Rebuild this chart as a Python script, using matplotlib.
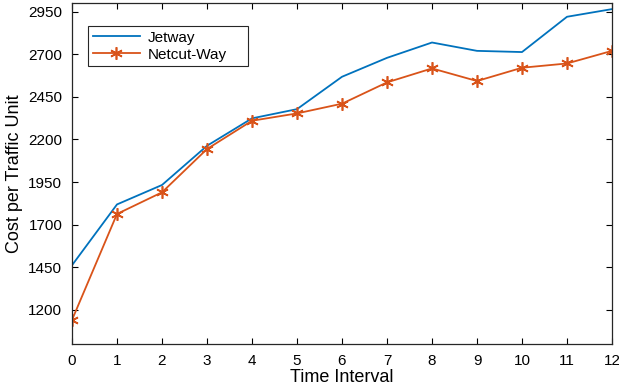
import matplotlib
matplotlib.use('Agg')
import matplotlib.pyplot as plt

plt.rcParams['font.family'] = ['Liberation Sans', 'DejaVu Sans']

# data
time_interval = [0, 1, 2, 3, 4, 5, 6, 7, 8, 9, 10, 11, 12]
jetway = [1462, 1819, 1933, 2163, 2324, 2378, 2568, 2679, 2769, 2720, 2713, 2920, 2965]
netcut_way = [1141, 1763, 1890, 2144, 2310, 2353, 2410, 2535, 2617, 2543, 2621, 2646, 2720]
y_ticks = [1200, 1450, 1700, 1950, 2200, 2450, 2700, 2950]

fig = plt.figure(figsize=(6.19, 3.92), dpi=100)
ax = fig.add_axes([0.1163, 0.1224, 0.8724, 0.8696])

ax.plot(time_interval, jetway, color='#0072BD', lw=1.3, label='Jetway')
ax.plot(time_interval, netcut_way, color='#D95319', lw=1.3, marker=(6, 2, 0),
        markersize=9, markeredgewidth=1.2, label='Netcut-Way')

ax.set_xlim(0, 12)
ax.set_ylim(1000, 3000)
ax.set_xticks(time_interval)
ax.set_yticks(y_ticks)
ax.tick_params(direction='in', top=True, right=True, labelsize=11, length=4,
               width=0.8, pad=7)
for s in ax.spines.values():
    s.set_linewidth(0.9)
    s.set_color('#262626')

ax.set_xlabel('Time Interval', fontsize=13, labelpad=1)
ax.set_ylabel('Cost per Traffic Unit', fontsize=13, labelpad=4)

# legend box stretched to the width seen in the reference
leg = ax.legend(loc='upper left', bbox_to_anchor=(0.0296, 0.5, 0.296, 0.4326),
                mode='expand', borderaxespad=0,
                fontsize=11, handlelength=3.1, fancybox=False, framealpha=1,
                edgecolor='#262626', borderpad=0.3, labelspacing=0.2,
                handletextpad=0.5)
leg.get_frame().set_linewidth(0.8)

fig.savefig('out.png', dpi=100)
